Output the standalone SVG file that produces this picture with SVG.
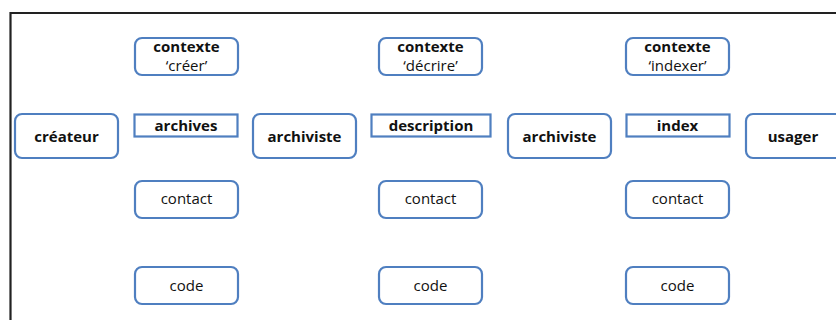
<svg xmlns="http://www.w3.org/2000/svg" width="836" height="320" viewBox="0 0 836 320">
<style>
.n{fill:#fff;stroke:#4f7fc0;stroke-width:2.2}
.t{font-family:"Open Sans","Liberation Sans",sans-serif;font-size:15px;fill:#111;text-anchor:middle}
.b{font-weight:bold}
</style>
<rect width="836" height="320" fill="#fff"/>
<path d="M10.5 320 V13 H836" fill="none" stroke="#222" stroke-width="2.2"/>
<g id="connectors"></g>
<g id="createur"><rect class="n" x="15" y="114" width="103" height="44" rx="7"/><text class="t b" x="66.5" y="142">créateur</text></g>
<g id="contexte1"><rect class="n" x="135" y="38" width="103" height="37" rx="7"/><text class="t b" x="186.5" y="52">contexte</text><text class="t" x="186.5" y="71">‘créer’</text></g>
<g id="archives"><rect class="n" x="134.5" y="114.5" width="103" height="22"/><text class="t b" x="186" y="131">archives</text></g>
<g id="contact1"><rect class="n" x="135" y="181" width="103" height="37" rx="7"/><text class="t" x="186.5" y="204">contact</text></g>
<g id="code1"><rect class="n" x="135" y="267" width="103" height="37" rx="7"/><text class="t" x="186.5" y="291">code</text></g>
<g id="archiviste1"><rect class="n" x="253" y="114" width="103" height="44" rx="7"/><text class="t b" x="304.5" y="142">archiviste</text></g>
<g id="contexte2"><rect class="n" x="379" y="38" width="103" height="37" rx="7"/><text class="t b" x="430.5" y="52">contexte</text><text class="t" x="430.5" y="71">‘décrire’</text></g>
<g id="description"><rect class="n" x="371.5" y="114.5" width="119" height="22"/><text class="t b" x="431" y="131">description</text></g>
<g id="contact2"><rect class="n" x="379" y="181" width="103" height="37" rx="7"/><text class="t" x="430.5" y="204">contact</text></g>
<g id="code2"><rect class="n" x="379" y="267" width="103" height="37" rx="7"/><text class="t" x="430.5" y="291">code</text></g>
<g id="archiviste2"><rect class="n" x="508" y="114" width="103" height="44" rx="7"/><text class="t b" x="559.5" y="142">archiviste</text></g>
<g id="contexte3"><rect class="n" x="626" y="38" width="103" height="37" rx="7"/><text class="t b" x="677.5" y="52">contexte</text><text class="t" x="677.5" y="71">‘indexer’</text></g>
<g id="index"><rect class="n" x="626.5" y="114.5" width="103" height="22"/><text class="t b" x="677.5" y="131">index</text></g>
<g id="contact3"><rect class="n" x="626" y="181" width="103" height="37" rx="7"/><text class="t" x="677.5" y="204">contact</text></g>
<g id="code3"><rect class="n" x="626" y="267" width="103" height="37" rx="7"/><text class="t" x="677.5" y="291">code</text></g>
<g id="usager"><rect class="n" x="746" y="114" width="103" height="44" rx="7"/><text class="t b" x="793" y="142">usager</text></g>
</svg>
